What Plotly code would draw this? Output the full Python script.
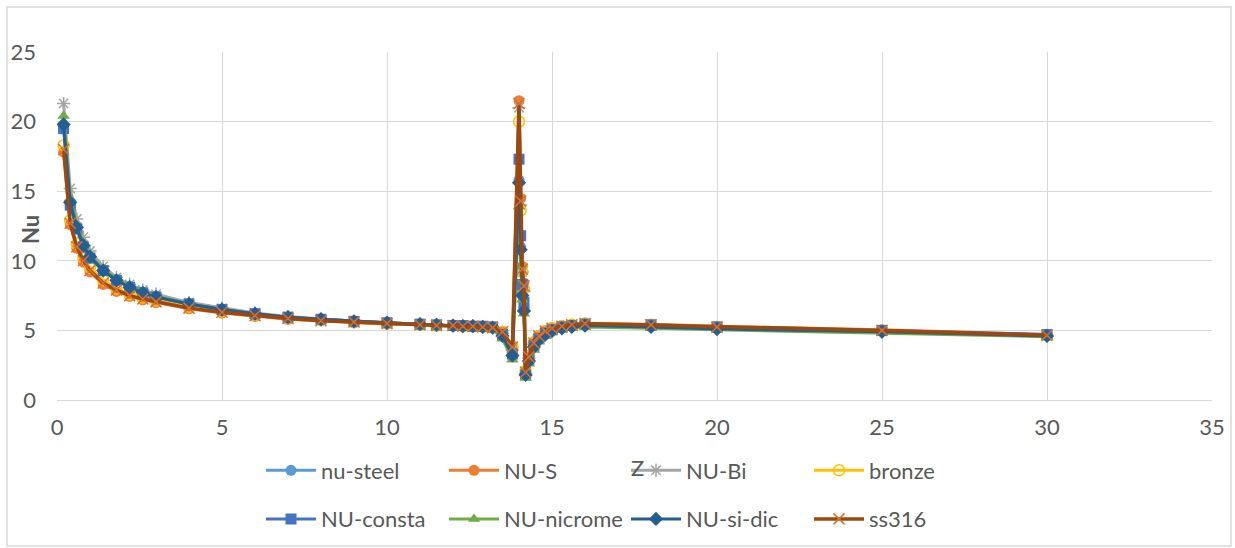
import plotly.graph_objects as go

# Axial position (Z) shared by every series
z = [0.2, 0.4, 0.6, 0.8, 1.0, 1.4, 1.8, 2.2, 2.6, 3.0, 4, 5, 6, 7, 8, 9, 10,
     11, 11.5, 12, 12.3, 12.6, 12.9, 13.2, 13.5, 13.8, 14.0, 14.05, 14.1,
     14.15, 14.2, 14.3, 14.45, 14.6, 14.8, 15.0, 15.3, 15.6, 16.0, 18, 20, 25, 30]

nu_steel = [19.6, 14.1, 12.3, 11.0, 10.2, 9.3, 8.6, 8.1, 7.7, 7.4, 6.9, 6.5, 6.2, 5.95,
            5.8, 5.65, 5.55, 5.45, 5.4, 5.35, 5.3, 5.3, 5.25, 5.2, 4.6, 3.4, 15.8, 11.0,
            7.8, 6.6, 1.8, 2.9, 3.9, 4.4, 4.8, 5.0, 5.2, 5.3, 5.4, 5.3, 5.15, 4.95, 4.65]
nu_s = [17.8, 12.6, 10.9, 9.9, 9.2, 8.3, 7.8, 7.45, 7.2, 7.0, 6.55, 6.25, 6.0, 5.8,
        5.7, 5.55, 5.45, 5.4, 5.35, 5.3, 5.3, 5.25, 5.25, 5.2, 4.9, 3.9, 21.5, 14.5,
        9.6, 8.4, 2.1, 3.2, 4.2, 4.65, 5.0, 5.2, 5.35, 5.45, 5.5, 5.45, 5.3, 5.05, 4.7]
nu_bi = [21.3, 15.2, 13.0, 11.7, 10.7, 9.6, 8.8, 8.3, 7.9, 7.6, 7.0, 6.6, 6.25, 6.0,
         5.8, 5.65, 5.55, 5.45, 5.4, 5.35, 5.3, 5.3, 5.25, 5.2, 4.8, 3.6, 21.0, 14.0,
         9.2, 7.8, 1.9, 3.0, 4.0, 4.5, 4.9, 5.1, 5.25, 5.35, 5.45, 5.35, 5.2, 4.95, 4.6]
bronze = [18.3, 12.9, 11.2, 10.2, 9.5, 8.6, 8.0, 7.6, 7.35, 7.15, 6.7, 6.35, 6.1, 5.9,
          5.75, 5.6, 5.5, 5.4, 5.35, 5.35, 5.3, 5.3, 5.25, 5.2, 4.9, 3.8, 20.0, 13.6,
          9.2, 8.0, 2.1, 3.1, 4.1, 4.6, 4.95, 5.15, 5.3, 5.4, 5.5, 5.4, 5.25, 5.0, 4.65]
nu_consta = [19.5, 14.0, 12.3, 11.0, 10.2, 9.3, 8.6, 8.1, 7.7, 7.4, 6.9, 6.5, 6.2, 5.95,
             5.8, 5.65, 5.55, 5.45, 5.4, 5.35, 5.35, 5.3, 5.3, 5.25, 4.7, 3.3, 17.3, 11.8,
             8.3, 7.0, 1.8, 2.9, 3.9, 4.4, 4.8, 5.05, 5.25, 5.35, 5.45, 5.4, 5.25, 5.0, 4.7]
nu_nicrome = [20.4, 14.5, 12.6, 11.3, 10.4, 9.4, 8.7, 8.2, 7.8, 7.45, 6.9, 6.5, 6.15, 5.9,
              5.75, 5.6, 5.5, 5.4, 5.35, 5.3, 5.25, 5.25, 5.2, 5.1, 4.4, 2.9, 13.9, 9.6,
              7.2, 6.2, 1.6, 2.6, 3.6, 4.2, 4.6, 4.85, 5.05, 5.15, 5.25, 5.15, 5.05, 4.85, 4.55]
nu_si_dic = [19.8, 14.2, 12.4, 11.1, 10.3, 9.3, 8.6, 8.1, 7.7, 7.4, 6.9, 6.5, 6.2, 5.95,
             5.8, 5.65, 5.55, 5.45, 5.4, 5.35, 5.3, 5.3, 5.25, 5.2, 4.6, 3.2, 15.6, 10.8,
             7.5, 6.4, 1.8, 2.8, 3.8, 4.3, 4.7, 4.95, 5.15, 5.25, 5.35, 5.25, 5.1, 4.9, 4.6]
ss316 = [18.0, 12.7, 11.0, 10.0, 9.3, 8.4, 7.9, 7.5, 7.25, 7.05, 6.6, 6.3, 6.05, 5.85,
         5.7, 5.6, 5.5, 5.4, 5.35, 5.35, 5.3, 5.3, 5.25, 5.2, 4.9, 3.8, 21.3, 14.3,
         9.4, 8.2, 2.0, 3.1, 4.1, 4.6, 4.95, 5.15, 5.3, 5.4, 5.5, 5.4, 5.25, 5.0, 4.65]

x_ticks = [0, 5, 10, 15, 20, 25, 30, 35]
y_ticks = [0, 5, 10, 15, 20, 25]

GREY_TXT = "#595959"
FONT = "Lato"
FS = 22

# name, values, line colour, marker symbol, marker colour, legend column
series = [
    ("nu-steel", nu_steel, "#5B9BD5", "circle", "#5B9BD5", "legend"),
    ("NU-S", nu_s, "#ED7D31", "circle", "#ED7D31", "legend2"),
    ("NU-Bi", nu_bi, "#A5A5A5", "asterisk-open", "#A5A5A5", "legend3"),
    ("bronze", bronze, "#FFC000", "circle-open", "#FFC000", "legend4"),
    ("NU-consta", nu_consta, "#4472C4", "square", "#4472C4", "legend"),
    ("NU-nicrome", nu_nicrome, "#70AD47", "triangle-up", "#70AD47", "legend2"),
    ("NU-si-dic", nu_si_dic, "#255E91", "diamond", "#255E91", "legend3"),
    ("ss316", ss316, "#9E480E", "x-thin-open", "#D8702F", "legend4"),
]

fig = go.Figure()
for name, vals, lc, sym, mc, lg in series:
    open_sym = sym.endswith("open")
    fig.add_trace(go.Scatter(
        x=z, y=vals, name=name, mode="lines+markers", legend=lg, legendgroup=name,
        line=dict(color=lc, width=3.5 if name == "ss316" else 3),
        marker=dict(symbol=sym, size=11, color=mc,
                    line=dict(color=mc, width=1.5 if open_sym else 0)),
    ))

W, H = 1235, 548
L, R, T, B = 57, 23, 52, 148
pw, ph = W - L - R, H - T - B


def px(xp):
    return (xp - L) / pw


def py(yp):
    return (H - B - yp) / ph


legend_common = dict(
    orientation="v", xanchor="left", yanchor="middle", y=py(495),
    font=dict(family=FONT, size=FS, color=GREY_TXT),
    itemwidth=50, bgcolor="rgba(0,0,0,0)", tracegroupgap=17,
)

fig.update_layout(
    width=W, height=H,
    margin=dict(l=L, r=R, t=T, b=B, autoexpand=False),
    paper_bgcolor="white", plot_bgcolor="white",
    font=dict(family=FONT, size=FS, color=GREY_TXT),
    showlegend=True,
    legend=dict(x=px(261), **legend_common),
    legend2=dict(x=px(444), **legend_common),
    legend3=dict(x=px(626), **legend_common),
    legend4=dict(x=px(809), **legend_common),
    xaxis=dict(range=[0, 35], tickvals=x_ticks, showgrid=True, gridcolor="#D9D9D9",
               gridwidth=1, zeroline=False, showline=True, linecolor="#D9D9D9",
               ticks="", ticklabelstandoff=8,
               tickfont=dict(family=FONT, size=FS, color=GREY_TXT)),
    yaxis=dict(range=[0, 25], tickvals=y_ticks, showgrid=True, gridcolor="#D9D9D9",
               gridwidth=1, zeroline=False, showline=False, ticks="",
               ticklabelstandoff=20,
               tickfont=dict(family=FONT, size=FS, color=GREY_TXT)),
    annotations=[
        dict(text="<b>Nu</b>", xref="paper", yref="paper", x=px(30), y=py(230),
             xanchor="center", yanchor="middle",
             textangle=-90, showarrow=False,
             font=dict(family=FONT, size=FS, color=GREY_TXT)),
        dict(text="Z", xref="paper", yref="paper", x=px(637), y=py(467),
             xanchor="center", yanchor="middle",
             showarrow=False, font=dict(family=FONT, size=FS, color=GREY_TXT)),
    ],
    shapes=[
        dict(type="rect", xref="paper", yref="paper",
             x0=px(7), x1=px(1231), y0=py(546), y1=py(7),
             line=dict(color="#D9D9D9", width=1.5), fillcolor="rgba(0,0,0,0)",
             layer="below"),
    ],
)

fig.write_html("out.html")
